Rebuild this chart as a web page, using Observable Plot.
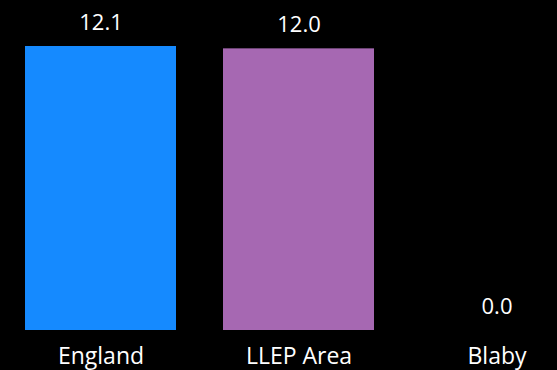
<!DOCTYPE html>
<html>
<head>
<meta charset="utf-8">
<script src="https://cdn.jsdelivr.net/npm/d3@7"></script>
<script src="https://cdn.jsdelivr.net/npm/@observablehq/plot@0.6"></script>
<style>
  html, body { margin: 0; padding: 0; background: #000; }
  #chart svg { display: block; }
</style>
</head>
<body>
<div id="chart"></div>
<script>
const categories = ["England", "LLEP Area", "Blaby"];
const values = [12.1, 12.0, 0.0];
const barColors = ["#158AFF", "#A668B2", "#A668B2"];

const data = categories.map((c, i) => ({category: c, value: values[i]}));

const chart = Plot.plot({
  width: 557,
  height: 370,
  marginTop: 46,
  marginBottom: 40,
  marginLeft: 0,
  marginRight: 0,
  style: {background: "#000", color: "#fff", fontFamily: "'Open Sans', sans-serif"},
  x: {domain: categories, range: [24, 574], paddingInner: 0.236, paddingOuter: 0, axis: null, label: null},
  y: {domain: [0, 12.1], axis: null},
  color: {domain: categories, range: barColors},
  marks: [
    Plot.barY(data, {x: "category", y: "value", fill: "category"}),
    Plot.text(data, {
      x: "category", y: "value",
      text: d => d.value.toFixed(1),
      lineAnchor: "bottom", dy: -17,
      fill: "#fff", fontSize: 22
    }),
    Plot.axisX({
      domain: categories, tickSize: 0, tickPadding: 17, label: null,
      fontSize: 23, color: "#fff", tickFormat: d => d
    })
  ]
});
document.getElementById("chart").appendChild(chart);
</script>
</body>
</html>
